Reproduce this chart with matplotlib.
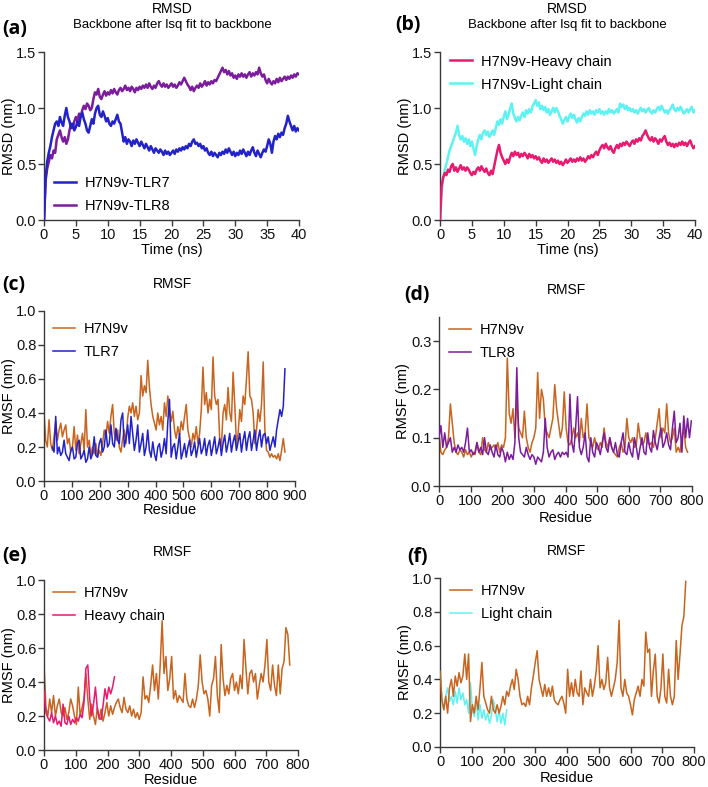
import numpy as np
import matplotlib
matplotlib.use("Agg")
import matplotlib.pyplot as plt

plt.rcParams['font.family'] = ['Liberation Sans', 'DejaVu Sans']

# ---------------- RMSD data (time step 0.25 ns, 0..40 ns) ----------------
rmsd_time_step = 0.25
rmsd_tlr7 = [
    0.00, 0.38, 0.52, 0.60, 0.66, 0.74, 0.80, 0.86, 0.88, 0.84, 0.92, 0.87,
    0.84, 0.93, 1.00, 0.92, 0.88, 0.82, 0.86, 0.80, 0.83, 0.88, 0.84, 0.92,
    0.96, 0.90, 0.86, 0.80, 0.78, 0.84, 0.90, 0.86, 0.95, 1.00, 1.02, 0.94,
    0.92, 0.97, 0.93, 0.88, 0.91, 0.86, 0.84, 0.88, 0.86, 0.90, 0.94, 0.88,
    0.86, 0.78, 0.70, 0.74, 0.68, 0.72, 0.70, 0.66, 0.71, 0.68, 0.72, 0.69,
    0.66, 0.70, 0.67, 0.64, 0.68, 0.65, 0.62, 0.66, 0.63, 0.60, 0.64, 0.62,
    0.60, 0.63, 0.61, 0.58, 0.62, 0.59, 0.61, 0.58, 0.60, 0.62, 0.59, 0.63,
    0.61, 0.64, 0.62, 0.65, 0.63, 0.66, 0.64, 0.68, 0.66, 0.70, 0.72, 0.68,
    0.69, 0.66, 0.68, 0.64, 0.66, 0.62, 0.64, 0.60, 0.58, 0.61, 0.57, 0.60,
    0.58, 0.56, 0.60, 0.58, 0.61, 0.59, 0.63, 0.60, 0.64, 0.61, 0.58, 0.61,
    0.57, 0.60, 0.58, 0.62, 0.59, 0.63, 0.60, 0.57, 0.61, 0.58, 0.62, 0.65,
    0.60, 0.57, 0.62, 0.59, 0.56, 0.60, 0.63, 0.61, 0.66, 0.72, 0.68, 0.60,
    0.70, 0.75, 0.72, 0.77, 0.74, 0.78, 0.76, 0.82, 0.86, 0.93, 0.88, 0.84,
    0.80, 0.84, 0.79, 0.82, 0.80]
rmsd_tlr8 = [
    0.00, 0.35, 0.46, 0.52, 0.58, 0.55, 0.62, 0.60, 0.72, 0.76, 0.80, 0.74,
    0.70, 0.74, 0.68, 0.72, 0.80, 0.86, 0.82, 0.88, 0.92, 0.88, 0.95, 0.92,
    0.98, 1.02, 0.99, 1.04, 1.02, 0.98, 1.00, 1.08, 1.14, 1.12, 1.17, 1.10,
    1.08, 1.12, 1.15, 1.11, 1.14, 1.12, 1.16, 1.13, 1.17, 1.14, 1.12, 1.16,
    1.18, 1.15, 1.17, 1.20, 1.16, 1.18, 1.15, 1.19, 1.17, 1.14, 1.18, 1.16,
    1.19, 1.17, 1.20, 1.18, 1.21, 1.18, 1.22, 1.19, 1.17, 1.20, 1.18, 1.22,
    1.24, 1.21, 1.19, 1.22, 1.19, 1.21, 1.18, 1.20, 1.22, 1.19, 1.21, 1.18,
    1.20, 1.23, 1.21, 1.24, 1.27, 1.24, 1.21, 1.19, 1.16, 1.19, 1.15, 1.18,
    1.20, 1.18, 1.22, 1.19, 1.21, 1.24, 1.20, 1.23, 1.21, 1.24, 1.22, 1.25,
    1.24, 1.27, 1.30, 1.33, 1.36, 1.32, 1.34, 1.30, 1.33, 1.29, 1.31, 1.27,
    1.29, 1.26, 1.30, 1.28, 1.31, 1.28, 1.30, 1.27, 1.30, 1.32, 1.28, 1.31,
    1.29, 1.32, 1.30, 1.36, 1.31, 1.28, 1.30, 1.25, 1.22, 1.26, 1.23, 1.21,
    1.24, 1.22, 1.26, 1.23, 1.27, 1.24, 1.26, 1.28, 1.25, 1.28, 1.26, 1.29,
    1.27, 1.30, 1.28, 1.31, 1.30]
rmsd_heavy = [
    0.00, 0.30, 0.38, 0.42, 0.40, 0.45, 0.43, 0.48, 0.50, 0.44, 0.47, 0.43,
    0.46, 0.49, 0.45, 0.47, 0.44, 0.47, 0.45, 0.42, 0.40, 0.43, 0.41, 0.45,
    0.47, 0.44, 0.48, 0.45, 0.43, 0.46, 0.42, 0.40, 0.44, 0.41, 0.48, 0.55,
    0.62, 0.67, 0.60, 0.56, 0.53, 0.50, 0.54, 0.51, 0.56, 0.60, 0.57, 0.61,
    0.58, 0.60, 0.56, 0.59, 0.57, 0.60, 0.58, 0.55, 0.59, 0.56, 0.58, 0.55,
    0.57, 0.54, 0.56, 0.53, 0.51, 0.55, 0.52, 0.54, 0.51, 0.53, 0.55, 0.52,
    0.54, 0.51, 0.53, 0.50, 0.52, 0.49, 0.51, 0.54, 0.51, 0.53, 0.55, 0.52,
    0.54, 0.52, 0.55, 0.53, 0.56, 0.53, 0.55, 0.52, 0.54, 0.57, 0.55, 0.58,
    0.56, 0.59, 0.61, 0.58, 0.62, 0.65, 0.67, 0.64, 0.68, 0.65, 0.63, 0.66,
    0.62, 0.60, 0.64, 0.67, 0.64, 0.68, 0.66, 0.69, 0.67, 0.70, 0.68, 0.66,
    0.69, 0.71, 0.68, 0.72, 0.70, 0.73, 0.71, 0.75, 0.77, 0.80, 0.76, 0.73,
    0.71, 0.74, 0.70, 0.73, 0.71, 0.68, 0.72, 0.70, 0.73, 0.75, 0.70, 0.67,
    0.69, 0.66, 0.68, 0.65, 0.68, 0.66, 0.69, 0.67, 0.70, 0.67, 0.69, 0.66,
    0.69, 0.71, 0.67, 0.64, 0.66]
rmsd_light = [
    0.00, 0.25, 0.38, 0.45, 0.50, 0.56, 0.62, 0.66, 0.70, 0.74, 0.78, 0.84,
    0.76, 0.72, 0.75, 0.70, 0.73, 0.68, 0.72, 0.66, 0.70, 0.64, 0.58, 0.66,
    0.72, 0.76, 0.72, 0.78, 0.80, 0.76, 0.79, 0.74, 0.77, 0.80, 0.76, 0.82,
    0.88, 0.85, 0.90, 0.86, 0.92, 0.97, 0.90, 0.94, 1.00, 1.04, 0.95, 0.91,
    0.88, 0.92, 0.89, 0.93, 0.96, 0.92, 0.98, 0.95, 0.99, 0.96, 1.01, 1.04,
    1.07, 1.02, 1.05, 0.99, 1.02, 0.98, 1.01, 0.96, 0.99, 0.94, 0.97, 1.00,
    0.96, 1.00, 0.97, 0.93, 0.90, 0.86, 0.89, 0.92, 0.88, 0.92, 0.95, 0.91,
    0.94, 0.90, 0.87, 0.91, 0.88, 0.92, 0.95, 0.93, 0.97, 0.94, 0.98, 0.95,
    0.97, 0.94, 0.98, 0.96, 0.99, 0.95, 0.97, 0.94, 0.97, 0.95, 0.99, 0.96,
    0.98, 0.95, 0.97, 0.99, 0.96, 1.04, 1.01, 1.03, 0.99, 1.02, 0.98, 1.00,
    0.97, 0.99, 0.96, 0.98, 0.95, 0.98, 1.00, 0.97, 0.99, 0.96, 0.98, 1.00,
    0.97, 0.95, 0.98, 0.96, 0.99, 1.01, 0.98, 1.02, 0.99, 0.96, 0.98, 0.95,
    0.98, 1.00, 1.03, 0.99, 0.97, 1.00, 0.98, 1.01, 0.98, 0.95, 0.97, 0.99,
    0.96, 0.99, 1.01, 0.96, 0.98]

# ---------------- RMSF data (residue step 6) ----------------
res_step = 6
# panel (c)
c_h7n9v_start = 0
c_h7n9v = [
    0.40, 0.24, 0.20, 0.36, 0.22, 0.18, 0.26, 0.35, 0.24, 0.30,
    0.34, 0.26, 0.30, 0.33, 0.22, 0.25, 0.17, 0.20, 0.32, 0.18,
    0.27, 0.16, 0.22, 0.28, 0.18, 0.42, 0.20, 0.24, 0.15, 0.20,
    0.16, 0.22, 0.14, 0.18, 0.15, 0.22, 0.30, 0.26, 0.35, 0.28,
    0.38, 0.45, 0.28, 0.24, 0.30, 0.20, 0.17, 0.25, 0.30, 0.22,
    0.37, 0.44, 0.40, 0.46, 0.38, 0.44, 0.36, 0.40, 0.62, 0.50,
    0.56, 0.52, 0.71, 0.55, 0.45, 0.38, 0.34, 0.30, 0.40, 0.33,
    0.38, 0.30, 0.46, 0.38, 0.50, 0.42, 0.35, 0.41, 0.30, 0.25,
    0.32, 0.27, 0.35, 0.30, 0.38, 0.45, 0.30, 0.25, 0.20, 0.28,
    0.24, 0.32, 0.22, 0.28, 0.42, 0.67, 0.45, 0.52, 0.40, 0.48,
    0.42, 0.73, 0.50, 0.45, 0.48, 0.25, 0.20, 0.40, 0.45, 0.36,
    0.55, 0.40, 0.35, 0.64, 0.45, 0.22, 0.28, 0.42, 0.35, 0.50,
    0.45, 0.60, 0.76, 0.50, 0.48, 0.40, 0.22, 0.30, 0.42, 0.35,
    0.45, 0.70, 0.30, 0.18, 0.17, 0.14, 0.16, 0.14, 0.15, 0.13,
    0.16, 0.12, 0.18, 0.25, 0.17]
c_tlr7_start = 30
c_tlr7 = [
    0.20, 0.17, 0.38, 0.16, 0.20, 0.15, 0.17, 0.24, 0.16, 0.14,
    0.12, 0.18, 0.20, 0.13, 0.14, 0.22, 0.24, 0.13, 0.15, 0.18,
    0.11, 0.13, 0.20, 0.13, 0.16, 0.26, 0.15, 0.14, 0.22, 0.25,
    0.17, 0.20, 0.30, 0.20, 0.22, 0.33, 0.22, 0.20, 0.31, 0.24,
    0.22, 0.36, 0.40, 0.20, 0.25, 0.33, 0.22, 0.38, 0.28, 0.18,
    0.24, 0.33, 0.17, 0.22, 0.28, 0.15, 0.20, 0.30, 0.18, 0.14,
    0.23, 0.16, 0.12, 0.20, 0.22, 0.14, 0.18, 0.25, 0.16, 0.35,
    0.48, 0.14, 0.20, 0.22, 0.13, 0.20, 0.28, 0.13, 0.17, 0.22,
    0.14, 0.20, 0.24, 0.15, 0.18, 0.23, 0.14, 0.20, 0.25, 0.16,
    0.19, 0.25, 0.15, 0.21, 0.24, 0.15, 0.20, 0.26, 0.16, 0.20,
    0.25, 0.15, 0.22, 0.27, 0.17, 0.22, 0.28, 0.17, 0.23, 0.27,
    0.18, 0.23, 0.28, 0.17, 0.24, 0.29, 0.18, 0.25, 0.29, 0.18,
    0.24, 0.30, 0.18, 0.25, 0.30, 0.20, 0.27, 0.28, 0.22, 0.26,
    0.18, 0.22, 0.26, 0.20, 0.30, 0.36, 0.42, 0.38, 0.44, 0.66]
# panel (d)
d_h7n9v = [
    0.110, 0.070, 0.065, 0.075, 0.080, 0.100, 0.170, 0.130, 0.090, 0.070,
    0.065, 0.075, 0.070, 0.060, 0.075, 0.065, 0.070, 0.060, 0.070, 0.065,
    0.090, 0.070, 0.065, 0.100, 0.075, 0.070, 0.090, 0.075, 0.080, 0.085,
    0.075, 0.090, 0.070, 0.085, 0.080, 0.100, 0.265, 0.150, 0.130, 0.160,
    0.100, 0.180, 0.120, 0.110, 0.100, 0.155, 0.100, 0.080, 0.070, 0.090,
    0.100, 0.120, 0.235, 0.140, 0.200, 0.180, 0.120, 0.110, 0.100, 0.120,
    0.140, 0.210, 0.160, 0.130, 0.100, 0.120, 0.195, 0.120, 0.090, 0.085,
    0.100, 0.120, 0.100, 0.110, 0.090, 0.140, 0.100, 0.110, 0.170, 0.100,
    0.090, 0.080, 0.100, 0.080, 0.075, 0.090, 0.080, 0.120, 0.090, 0.080,
    0.100, 0.080, 0.070, 0.065, 0.060, 0.080, 0.090, 0.070, 0.080, 0.140,
    0.100, 0.090, 0.100, 0.080, 0.085, 0.130, 0.100, 0.085, 0.090, 0.110,
    0.090, 0.085, 0.090, 0.080, 0.100, 0.130, 0.160, 0.100, 0.120, 0.110,
    0.170, 0.110, 0.090, 0.100, 0.120, 0.070, 0.080, 0.070, 0.100, 0.120,
    0.080, 0.070]
d_tlr8 = [
    0.100, 0.125, 0.080, 0.110, 0.080, 0.090, 0.100, 0.070, 0.080, 0.070,
    0.085, 0.075, 0.080, 0.070, 0.090, 0.120, 0.070, 0.075, 0.065, 0.070,
    0.090, 0.070, 0.080, 0.065, 0.100, 0.070, 0.065, 0.085, 0.070, 0.060,
    0.085, 0.065, 0.060, 0.080, 0.070, 0.050, 0.070, 0.055, 0.065, 0.055,
    0.090, 0.245, 0.100, 0.070, 0.065, 0.060, 0.080, 0.065, 0.055, 0.065,
    0.060, 0.045, 0.060, 0.055, 0.050, 0.070, 0.140, 0.080, 0.060, 0.070,
    0.075, 0.055, 0.065, 0.070, 0.060, 0.070, 0.065, 0.070, 0.060, 0.190,
    0.090, 0.070, 0.120, 0.185, 0.080, 0.065, 0.080, 0.110, 0.060, 0.050,
    0.100, 0.070, 0.060, 0.090, 0.080, 0.065, 0.090, 0.110, 0.080, 0.070,
    0.100, 0.080, 0.070, 0.090, 0.065, 0.060, 0.090, 0.110, 0.070, 0.065,
    0.090, 0.070, 0.060, 0.100, 0.080, 0.055, 0.080, 0.100, 0.070, 0.065,
    0.110, 0.080, 0.070, 0.115, 0.090, 0.075, 0.100, 0.120, 0.080, 0.090,
    0.110, 0.085, 0.075, 0.120, 0.155, 0.090, 0.100, 0.130, 0.070, 0.145,
    0.100, 0.140, 0.100, 0.135]
# panel (e)
e_h7n9v = [
    0.50, 0.25, 0.20, 0.30, 0.22, 0.32, 0.20, 0.26, 0.30, 0.22,
    0.20, 0.25, 0.18, 0.22, 0.30, 0.26, 0.20, 0.15, 0.37, 0.20,
    0.25, 0.30, 0.45, 0.30, 0.18, 0.27, 0.20, 0.15, 0.25, 0.18,
    0.24, 0.17, 0.22, 0.28, 0.20, 0.26, 0.21, 0.25, 0.28, 0.30,
    0.25, 0.22, 0.31, 0.24, 0.22, 0.26, 0.20, 0.24, 0.19, 0.22,
    0.18, 0.22, 0.43, 0.30, 0.32, 0.28, 0.38, 0.50, 0.35, 0.45,
    0.30, 0.50, 0.76, 0.45, 0.55, 0.35, 0.42, 0.55, 0.30, 0.35,
    0.28, 0.32, 0.30, 0.28, 0.45, 0.30, 0.26, 0.25, 0.30, 0.25,
    0.30, 0.38, 0.56, 0.40, 0.33, 0.35, 0.30, 0.20, 0.38, 0.42,
    0.55, 0.32, 0.22, 0.62, 0.42, 0.32, 0.38, 0.33, 0.42, 0.45,
    0.35, 0.40, 0.33, 0.44, 0.36, 0.65, 0.48, 0.33, 0.45, 0.47,
    0.40, 0.45, 0.30, 0.38, 0.45, 0.40, 0.50, 0.65, 0.40, 0.35,
    0.50, 0.38, 0.32, 0.50, 0.33, 0.48, 0.52, 0.72, 0.68, 0.50]
e_heavy = [
    0.35, 0.22, 0.19, 0.17, 0.22, 0.16, 0.20, 0.15, 0.17, 0.14,
    0.27, 0.16, 0.15, 0.20, 0.15, 0.18, 0.16, 0.19, 0.17, 0.21,
    0.19, 0.28, 0.48, 0.50, 0.30, 0.20, 0.27, 0.37, 0.24, 0.19,
    0.18, 0.26, 0.36, 0.30, 0.37, 0.33, 0.37, 0.43]
# panel (f)
f_h7n9v = [
    0.45, 0.28, 0.22, 0.30, 0.20, 0.35, 0.40, 0.30, 0.42, 0.36,
    0.44, 0.38, 0.42, 0.55, 0.40, 0.55, 0.15, 0.25, 0.20, 0.30,
    0.22, 0.35, 0.50, 0.30, 0.26, 0.22, 0.20, 0.30, 0.22, 0.20,
    0.25, 0.20, 0.24, 0.30, 0.25, 0.33, 0.30, 0.36, 0.40, 0.34,
    0.46, 0.40, 0.30, 0.25, 0.26, 0.24, 0.30, 0.25, 0.35, 0.42,
    0.50, 0.57, 0.40, 0.35, 0.30, 0.37, 0.30, 0.35, 0.30, 0.36,
    0.28, 0.26, 0.25, 0.28, 0.30, 0.26, 0.20, 0.46, 0.30, 0.38,
    0.30, 0.40, 0.32, 0.30, 0.45, 0.25, 0.35, 0.32, 0.30, 0.40,
    0.30, 0.36, 0.45, 0.60, 0.35, 0.40, 0.34, 0.38, 0.53, 0.35,
    0.30, 0.35, 0.40, 0.50, 0.75, 0.35, 0.30, 0.40, 0.32, 0.30,
    0.25, 0.19, 0.28, 0.32, 0.36, 0.30, 0.40, 0.36, 0.68, 0.56,
    0.58, 0.30, 0.45, 0.55, 0.30, 0.26, 0.35, 0.55, 0.30, 0.26,
    0.46, 0.30, 0.25, 0.30, 0.63, 0.40, 0.55, 0.72, 0.77, 0.98]
f_light = [
    0.52, 0.28, 0.22, 0.30, 0.35, 0.27, 0.30, 0.25, 0.33, 0.26,
    0.35, 0.28, 0.32, 0.25, 0.28, 0.20, 0.38, 0.22, 0.18, 0.28,
    0.16, 0.25, 0.17, 0.22, 0.16, 0.20, 0.14, 0.19, 0.28, 0.22,
    0.15, 0.22, 0.14, 0.20, 0.13, 0.22]

# ---------------- styling ----------------
C_TLR7 = "#2222c8"
C_TLR8 = "#7b1c9c"
C_HEAVY = "#e8196e"
C_LIGHT = "#5ef2f2"
C_H7 = "#c8641e"
SPINE = "#3a3a3a"

W, H = 708, 787
fig = plt.figure(figsize=(W / 100, H / 100), dpi=100)

FS = 10.5


def make_ax(left, right, top, bottom):
    ax = fig.add_axes([left / W, 1 - bottom / H, (right - left) / W, (bottom - top) / H])
    for s in ("top", "right"):
        ax.spines[s].set_visible(False)
    for s in ("left", "bottom"):
        ax.spines[s].set_color(SPINE)
        ax.spines[s].set_linewidth(1.0)
    ax.tick_params(direction="out", length=4, width=1.0, color=SPINE,
                   labelsize=FS, pad=1.5, labelcolor="#111111")
    ax.set_facecolor("none")
    return ax


def residues(vals, start=0):
    return start + np.arange(len(vals)) * res_step


t = np.arange(len(rmsd_tlr7)) * rmsd_time_step

LEG = dict(frameon=False, fontsize=FS, handlelength=1.5, handletextpad=0.6,
           labelspacing=0.62, borderaxespad=0, borderpad=0)
RMSD_LW = 1.8
RMSF_LW = 1.1

# (a)
ax = make_ax(44, 299, 52, 220)
ax.plot(t, rmsd_tlr7, color=C_TLR7, lw=RMSD_LW, label="H7N9v-TLR7", zorder=3)
ax.plot(t, rmsd_tlr8, color=C_TLR8, lw=RMSD_LW, label="H7N9v-TLR8", zorder=2)
ax.set_xlim(0, 40); ax.set_ylim(0, 1.5)
ax.set_xticks(np.arange(0, 41, 5)); ax.set_yticks([0, 0.5, 1.0, 1.5])
ax.set_yticklabels(["0.0", "0.5", "1.0", "1.5"])
ax.set_xlabel("Time (ns)", fontsize=FS); ax.set_ylabel("RMSD (nm)", fontsize=FS)
ax.xaxis.set_label_coords(0.5, -0.135); ax.yaxis.set_label_coords(-0.11, 0.5)
ax.legend(loc="lower left", bbox_to_anchor=(0.04, 0.04), **LEG)

# (b)
ax = make_ax(440, 695, 52, 220)
ax.plot(t, rmsd_light, color=C_LIGHT, lw=RMSD_LW, label="H7N9v-Light chain", zorder=2)
ax.plot(t, rmsd_heavy, color=C_HEAVY, lw=RMSD_LW, label="H7N9v-Heavy chain", zorder=3)
ax.set_xlim(0, 40); ax.set_ylim(0, 1.5)
ax.set_xticks(np.arange(0, 41, 5)); ax.set_yticks([0, 0.5, 1.0, 1.5])
ax.set_yticklabels(["0.0", "0.5", "1.0", "1.5"])
ax.set_xlabel("Time (ns)", fontsize=FS); ax.set_ylabel("RMSD (nm)", fontsize=FS)
ax.xaxis.set_label_coords(0.5, -0.135); ax.yaxis.set_label_coords(-0.11, 0.5)
hs, ls = ax.get_legend_handles_labels()
ax.legend(hs[::-1], ls[::-1], loc="upper left", bbox_to_anchor=(0.04, 0.985), **LEG)

# (c)
ax = make_ax(44, 295, 311, 481)
ax.plot(residues(c_h7n9v, c_h7n9v_start), c_h7n9v, color=C_H7, lw=RMSF_LW, label="H7N9v", zorder=2)
ax.plot(residues(c_tlr7, c_tlr7_start), c_tlr7, color=C_TLR7, lw=RMSF_LW, label="TLR7", zorder=3)
ax.set_xlim(0, 900); ax.set_ylim(0, 1.0)
ax.set_xticks(np.arange(0, 901, 100)); ax.set_yticks(np.arange(0, 1.01, 0.2))
ax.set_yticklabels(["0.0", "0.2", "0.4", "0.6", "0.8", "1.0"])
ax.set_xlabel("Residue", fontsize=FS); ax.set_ylabel("RMSF (nm)", fontsize=FS)
ax.xaxis.set_label_coords(0.5, -0.13); ax.yaxis.set_label_coords(-0.11, 0.5)
ax.legend(loc="upper left", bbox_to_anchor=(0.035, 0.935), **LEG)

# (d)
ax = make_ax(439, 692, 317, 486)
ax.plot(residues(d_h7n9v), d_h7n9v, color=C_H7, lw=RMSF_LW, label="H7N9v", zorder=2)
ax.plot(residues(d_tlr8), d_tlr8, color=C_TLR8, lw=RMSF_LW, label="TLR8", zorder=3)
ax.set_xlim(0, 800); ax.set_ylim(0, 0.35)
ax.set_xticks(np.arange(0, 801, 100)); ax.set_yticks([0, 0.1, 0.2, 0.3])
ax.set_yticklabels(["0.0", "0.1", "0.2", "0.3"])
ax.set_xlabel("Residue", fontsize=FS); ax.set_ylabel("RMSF (nm)", fontsize=FS)
ax.xaxis.set_label_coords(0.5, -0.15); ax.yaxis.set_label_coords(-0.115, 0.5)
ax.legend(loc="upper left", bbox_to_anchor=(0.04, 0.965), **LEG)

# (e)
ax = make_ax(44, 298, 580, 750)
ax.plot(residues(e_h7n9v), e_h7n9v, color=C_H7, lw=RMSF_LW, label="H7N9v", zorder=2)
ax.plot(residues(e_heavy), e_heavy, color=C_HEAVY, lw=RMSF_LW, label="Heavy chain", zorder=3)
ax.set_xlim(0, 800); ax.set_ylim(0, 1.0)
ax.set_xticks(np.arange(0, 801, 100)); ax.set_yticks(np.arange(0, 1.01, 0.2))
ax.set_yticklabels(["0.0", "0.2", "0.4", "0.6", "0.8", "1.0"])
ax.set_xlabel("Residue", fontsize=FS); ax.set_ylabel("RMSF (nm)", fontsize=FS)
ax.xaxis.set_label_coords(0.5, -0.135); ax.yaxis.set_label_coords(-0.11, 0.5)
ax.legend(loc="upper left", bbox_to_anchor=(0.035, 0.965), **LEG)

# (f)
ax = make_ax(440, 694, 578, 747)
ax.plot(residues(f_light), f_light, color=C_LIGHT, lw=RMSF_LW, label="Light chain", zorder=2)
ax.plot(residues(f_h7n9v), f_h7n9v, color=C_H7, lw=RMSF_LW, label="H7N9v", zorder=3)
ax.set_xlim(0, 800); ax.set_ylim(0, 1.0)
ax.set_xticks(np.arange(0, 801, 100)); ax.set_yticks(np.arange(0, 1.01, 0.2))
ax.set_yticklabels(["0.0", "0.2", "0.4", "0.6", "0.8", "1.0"])
ax.set_xlabel("Residue", fontsize=FS); ax.set_ylabel("RMSF (nm)", fontsize=FS)
ax.xaxis.set_label_coords(0.5, -0.14); ax.yaxis.set_label_coords(-0.11, 0.5)
hs, ls = ax.get_legend_handles_labels()
ax.legend(hs[::-1], ls[::-1], loc="upper left", bbox_to_anchor=(0.04, 0.965), **LEG)

# titles
def ftext(x, y, s, **kw):
    fig.text(x / W, 1 - y / H, s, **kw)

TFS = 10
ftext(172, 9, "RMSD", ha="center", va="center", fontsize=TFS)
ftext(172, 25, "Backbone after lsq fit to backbone", ha="center", va="center", fontsize=9.5)
ftext(567, 9, "RMSD", ha="center", va="center", fontsize=TFS)
ftext(567, 25, "Backbone after lsq fit to backbone", ha="center", va="center", fontsize=9.5)
ftext(172, 284, "RMSF", ha="center", va="center", fontsize=TFS)
ftext(567, 290, "RMSF", ha="center", va="center", fontsize=TFS)
ftext(172, 552, "RMSF", ha="center", va="center", fontsize=TFS)
ftext(567, 551, "RMSF", ha="center", va="center", fontsize=TFS)

PL = dict(ha="left", va="center", fontsize=14, fontweight="bold",
          family=["Open Sans", "DejaVu Sans"])
ftext(2, 29, "(a)", **PL)
ftext(395, 25, "(b)", **PL)
ftext(2, 285, "(c)", **PL)
ftext(404, 295, "(d)", **PL)
ftext(2, 556, "(e)", **PL)
ftext(407, 557, "(f)", **PL)

fig.savefig("out.png", dpi=100, facecolor="white")
